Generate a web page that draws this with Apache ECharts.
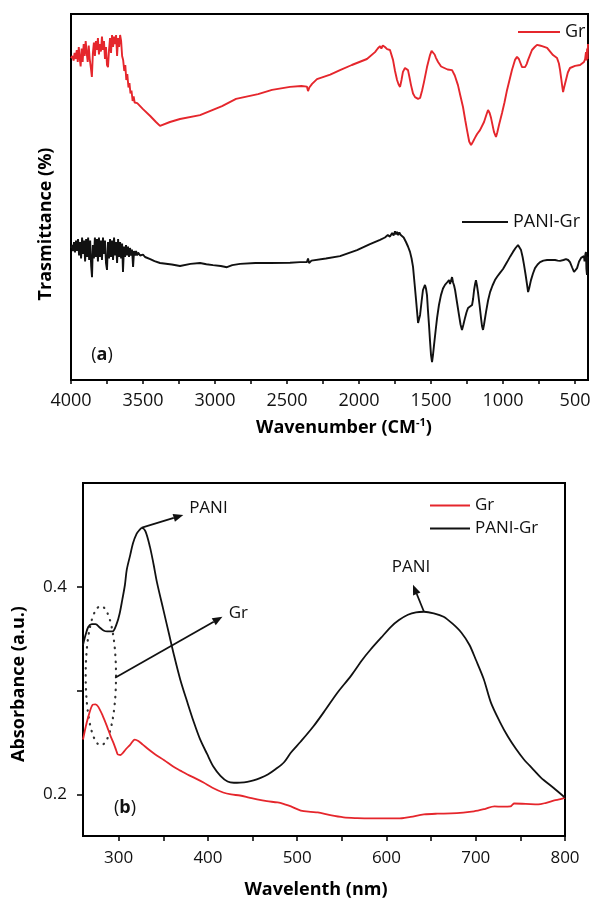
<!DOCTYPE html>
<html>
<head>
<meta charset="utf-8">
<title>FTIR and UV-vis of Gr / PANI-Gr</title>
<script src="https://cdn.jsdelivr.net/npm/echarts@6/dist/echarts.min.js"></script>
<style>
  html, body { margin: 0; padding: 0; background: #fff; }
  #chart { width: 591px; height: 902px; }
</style>
</head>
<body>
<div id="chart"></div>
<script>
// (a) FTIR, [wavenumber cm-1, transmittance (arbitrary offset units)]
const ftirGr = [
  [4000,107.3],[3990,108],[3982,106.5],[3975,109],[3968,107],[3960,110],[3953,106],[3946,111],[3940,107.5],[3933,104.5],
  [3926,110.5],[3919,106],[3912,112],[3905,108],[3898,113],[3891,109],[3884,106],[3877,111.5],[3870,107],[3862,104],
  [3855,101],[3848,109],[3841,112.5],[3834,108],[3827,113],[3820,110],[3813,114],[3806,108.5],[3799,112],[3792,109.5],
  [3785,114.5],[3778,110],[3771,113],[3764,107],[3757,111],[3750,105],[3743,104.3],[3736,110],[3729,114],[3722,109],
  [3715,115],[3708,111],[3701,114.5],[3694,112],[3687,115],[3680,108],[3673,114],[3666,111],[3659,115],[3652,113],
  [3645,108],[3638,106.7],[3630,103],[3623,105],[3616,100],[3609,102],[3601,97.5],[3594,99],[3587,95.5],[3580,96.5],
  [3572,93],[3565,94.5],[3558,92.5],[3550,93],[3540,92.3],[3500,90.3],[3450,88],[3410,86],[3382,84.7],[3313,86],
  [3243,87],[3104,88.3],[2951,91.3],[2854,93.7],[2701,95.3],[2604,96.7],[2479,97.7],[2400,98],[2362,97.8],[2354,96.3],
  [2345,97.5],[2326,98.7],[2292,100.3],[2200,101.8],[2132,103.3],[2050,105],[1945,107],[1889,109.3],[1870,110.5],[1854,111.3],
  [1845,110.5],[1835,111.5],[1820,111],[1805,110.3],[1785,110],[1764,106.7],[1750,103],[1736,100],[1725,98.5],[1715,97.7],
  [1705,100],[1695,102.7],[1681,104],[1670,103.8],[1660,103.3],[1650,101],[1639,98.3],[1625,95.5],[1611,94.3],[1590,93.7],
  [1576,94],[1562,96.5],[1549,99.3],[1528,104.3],[1507,108.3],[1496,109.7],[1486,109.3],[1475,108.5],[1465,107.3],[1451,106],
  [1430,104.5],[1417,104],[1385,103.5],[1354,103.3],[1335,101.5],[1313,98.3],[1295,94.5],[1278,91],[1262,86.5],[1250,83.3],
  [1235,79.5],[1222,78.3],[1208,79.5],[1195,80.7],[1180,82],[1160,83.3],[1132,86],[1115,88.5],[1104,90],[1093,89],
  [1083,87.3],[1063,82.7],[1049,81],[1040,82.5],[1028,85],[1007,89],[990,92.5],[972,96.7],[955,100],[938,103.3],
  [917,106.7],[903,107.7],[890,107],[882,106],[868,104.3],[847,104.3],[836,105.3],[826,106.7],[799,110],[780,111],
  [764,111.7],[745,111.5],[729,111.3],[694,110.7],[653,108.3],[625,107.3],[612,105.5],[604,103.3],[596,100.5],[590,98.3],
  [583,96],[576,97.5],[563,100],[550,102.5],[535,104],[500,104.7],[465,105],[438,106],[430,107],[424,109.3],
  [420,106.5],[416,110.5],[413,107],[410,112]
];
const ftirPaniGr = [
  [4000,44],[3993,45],[3986,43],[3979,46],[3972,42.5],[3965,46.5],[3958,43],[3951,47],[3944,41.5],[3937,46],
  [3930,40.5],[3923,47.5],[3916,42],[3909,46.5],[3902,39.5],[3895,47],[3888,41],[3881,47.5],[3874,40],[3867,46.5],
  [3860,38],[3854,34.3],[3848,45],[3841,40.5],[3834,47.5],[3827,41],[3820,47],[3813,39.5],[3806,47.5],[3799,41],
  [3792,46.5],[3785,40],[3778,47.5],[3771,42],[3764,46.5],[3757,39],[3750,36.7],[3743,46],[3736,40.5],[3729,47],
  [3722,41],[3715,46.5],[3708,40],[3701,47.5],[3694,41.5],[3687,46],[3680,39],[3673,47],[3666,41],[3659,46],
  [3652,40.5],[3645,45.5],[3639,36],[3632,44.5],[3625,41],[3618,45],[3611,41.5],[3604,44.5],[3597,41],[3590,44],
  [3583,41.5],[3576,43.5],[3569,37.7],[3562,43],[3555,41.5],[3548,43],[3541,41.5],[3534,42.5],[3520,41.5],[3500,41.8],
  [3486,41],[3450,40.3],[3420,39.6],[3382,39],[3300,38.5],[3243,38],[3170,38.7],[3104,39],[3060,38.6],[3014,38.3],
  [2960,38],[2917,37.6],[2880,38.3],[2826,38.7],[2720,39],[2618,39],[2479,39.1],[2410,39.3],[2362,39.3],[2354,40.5],
  [2347,39],[2330,39.8],[2230,40.5],[2132,41.3],[2014,43.3],[1924,45.3],[1854,46.7],[1820,47.5],[1800,48.3],[1785,47.8],
  [1770,49],[1760,48.2],[1750,49.6],[1743,48.5],[1736,49.4],[1728,48.3],[1720,49.2],[1710,48.3],[1701,48.7],[1690,47.5],
  [1674,46],[1660,44.5],[1646,42.7],[1635,40.5],[1625,37.7],[1614,32],[1604,26.7],[1590,19],[1583,19.5],[1576,21.7],
  [1566,26],[1556,30],[1542,31.7],[1535,30.5],[1528,28.3],[1521,23],[1514,18.3],[1507,13],[1500,8.3],[1493,6],
  [1486,8.5],[1479,11.7],[1468,16.5],[1458,20.7],[1445,25],[1431,28.3],[1417,30.5],[1403,31.7],[1389,32.5],[1375,33.3],
  [1368,32],[1361,31.7],[1354,34.3],[1347,32.5],[1340,31.5],[1333,30],[1320,26],[1306,21.7],[1295,18.5],[1285,16.7],
  [1275,18.5],[1264,20.7],[1254,22.5],[1243,24],[1230,24.5],[1215,25],[1208,27],[1201,30],[1194,32],[1188,33.3],
  [1181,31.5],[1174,29.3],[1163,25],[1153,20.7],[1146,18],[1139,16.7],[1132,18.5],[1118,22.7],[1104,26.5],[1090,29.3],
  [1073,31.5],[1056,33.3],[1040,34.5],[1021,35.7],[1000,37],[972,39.3],[950,41.2],[931,42.7],[913,44],[896,45],
  [885,44.5],[875,43.3],[864,41],[854,38.3],[843,35],[833,31.7],[826,29.3],[819,30.5],[806,33.3],[792,35.5],
  [778,37.3],[760,38.5],[743,39.3],[720,39.8],[694,40],[660,40],[639,40],[620,39.8],[604,39.7],[580,40],
  [563,40.3],[548,40],[535,39.3],[520,37.5],[507,36],[497,36.5],[486,37.3],[472,39.5],[458,40.7],[445,41],
  [438,41.3],[434,39.5],[431,39.3],[428,42],[424,42.7],[421,37],[417,35],[414,41],[410,40.7]
];
const ftirLabels = [500, 1000, 1500, 2000, 2500, 3000, 3500, 4000];
const ftirTicks = [500, 750, 1000, 1250, 1500, 1750, 2000, 2250, 2500, 2750, 3000, 3250, 3500, 3750, 4000];

// (b) UV-vis, [wavelength nm, absorbance]
const uvGr = [
  [260,0.2529],[263,0.265],[266,0.275],[271,0.2865],[274,0.2868],[277,0.2846],[282,0.276],[287,0.2654],[291,0.256],[294,0.25],
  [297,0.243],[299,0.2385],[302,0.238],[305,0.2404],[309,0.2445],[313,0.248],[318,0.2529],[322,0.2515],[327,0.248],[334,0.243],
  [341,0.2385],[351,0.233],[361,0.2269],[369,0.223],[377,0.2192],[386,0.2155],[395,0.2115],[405,0.2065],[417,0.2019],[426,0.2],
  [436,0.199],[446,0.197],[455,0.1952],[466,0.1935],[478,0.1923],[486,0.1905],[493,0.1885],[504,0.1845],[515,0.1832],[523,0.1827],
  [537,0.18],[552,0.1779],[567,0.1772],[582,0.1769],[597,0.177],[613,0.1769],[627,0.1785],[642,0.1808],[657,0.1815],[672,0.1817],
  [686,0.1825],[698,0.1837],[710,0.186],[721,0.1885],[730,0.1882],[739,0.1885],[741,0.19],[743,0.1913],[756,0.191],[770,0.1904],
  [779,0.192],[788,0.1942],[795,0.1955],[800,0.197]
];
const uvPaniGr = [
  [260,0.344],[263,0.354],[266,0.3615],[270,0.364],[274,0.364],[279,0.3606],[283,0.358],[287,0.357],[293,0.357],[298,0.365],
  [301,0.374],[304,0.3875],[307,0.402],[309,0.4163],[313,0.431],[316,0.442],[320,0.451],[323,0.4545],[326,0.4567],[330,0.4535],
  [335,0.4385],[339,0.422],[343,0.4038],[350,0.378],[356,0.356],[362,0.334],[369,0.3106],[377,0.2885],[384,0.27],[391,0.2535],
  [399,0.239],[406,0.2269],[414,0.218],[422,0.2125],[429,0.2113],[436,0.2115],[444,0.2122],[451,0.2135],[459,0.216],[467,0.2192],
  [476,0.2245],[485,0.2308],[493,0.2404],[504,0.251],[518,0.2654],[532,0.282],[545,0.298],[560,0.314],[573,0.3298],[582,0.3394],
  [594,0.351],[605,0.3615],[614,0.368],[624,0.3731],[633,0.3755],[642,0.376],[653,0.3745],[664,0.3712],[674,0.3645],[684,0.3558],
  [693,0.344],[700,0.33],[709,0.311],[717,0.2885],[727,0.27],[736,0.2558],[745,0.244],[754,0.2337],[764,0.2245],[773,0.2163],
  [787,0.2065],[800,0.197]
];
const uvLabels = [300, 400, 500, 600, 700, 800];
const uvTicks = [300, 350, 400, 450, 500, 550, 600, 650, 700, 750, 800];
const absLabels = [0.2, 0.4];
const absTicks = [0.2, 0.3, 0.4];

const RED = '#e5262c';
const BLACK = '#111';
const FONT = 'Open Sans';

const chart = echarts.init(document.getElementById('chart'));

const axisLine = { show: true, lineStyle: { color: '#000', width: 2 } };
const legendText = size => ({ fontFamily: FONT, fontSize: size, color: BLACK });

chart.setOption({
  animation: false,
  textStyle: { fontFamily: FONT, color: BLACK },
  grid: [
    { left: 71, top: 14, width: 517, height: 366, show: true, borderColor: '#000', borderWidth: 2, outerBoundsMode: 'none' },
    { left: 83, top: 483, width: 482, height: 353, show: true, borderColor: '#000', borderWidth: 2, outerBoundsMode: 'none' }
  ],
  legend: [
    {
      data: ['Gr'], left: 513, top: 18, icon: 'rect', itemWidth: 42, itemHeight: 2,
      textStyle: legendText(18)
    },
    {
      data: ['PANI-Gr'], left: 457, top: 208, icon: 'rect', itemWidth: 46, itemHeight: 2,
      textStyle: legendText(18)
    },
    {
      data: ['Gr', 'PANI-Gr'], left: 425, top: 492, orient: 'vertical', icon: 'rect',
      itemWidth: 40, itemHeight: 2, itemGap: 6,
      textStyle: legendText(17)
    }
  ],
  xAxis: [
    {
      type: 'value', gridIndex: 0, min: 410, max: 4000, inverse: true,
      axisLine,
      axisTick: { customValues: ftirTicks, length: 4, lineStyle: { color: '#000', width: 1.5 } },
      axisLabel: {
        customValues: ftirLabels, fontSize: 18, color: BLACK, margin: 12, fontFamily: FONT,
        formatter: v => String(v)
      },
      splitLine: { show: false }
    },
    {
      type: 'value', gridIndex: 1, min: 260, max: 800,
      axisLine,
      axisTick: { customValues: uvTicks, length: 5, lineStyle: { color: '#000', width: 1.5 } },
      axisLabel: {
        customValues: uvLabels, fontSize: 17, color: BLACK, margin: 14, fontFamily: FONT,
        formatter: v => String(v)
      },
      splitLine: { show: false }
    }
  ],
  yAxis: [
    {
      type: 'value', gridIndex: 0, min: 0, max: 122,
      axisLine, axisTick: { show: false }, axisLabel: { show: false }, splitLine: { show: false }
    },
    {
      type: 'value', gridIndex: 1, min: 0.16, max: 0.5,
      axisLine,
      axisTick: { customValues: absTicks, length: 6, lineStyle: { color: '#000', width: 1.5 } },
      axisLabel: {
        customValues: absLabels, fontSize: 17, color: BLACK, margin: 16, fontFamily: FONT,
        formatter: v => v.toFixed(1)
      },
      splitLine: { show: false }
    }
  ],
  series: [
    {
      name: 'Gr', type: 'line', xAxisIndex: 0, yAxisIndex: 0, data: ftirGr,
      symbol: 'none', lineStyle: { color: RED, width: 1.9 }, itemStyle: { color: RED }
    },
    {
      name: 'PANI-Gr', type: 'line', xAxisIndex: 0, yAxisIndex: 0, data: ftirPaniGr,
      symbol: 'none', lineStyle: { color: BLACK, width: 1.9 }, itemStyle: { color: BLACK }
    },
    {
      name: 'Gr', type: 'line', xAxisIndex: 1, yAxisIndex: 1, data: uvGr, smooth: 0.3,
      symbol: 'none', lineStyle: { color: RED, width: 1.8 }, itemStyle: { color: RED }
    },
    {
      name: 'PANI-Gr', type: 'line', xAxisIndex: 1, yAxisIndex: 1, data: uvPaniGr, smooth: 0.3,
      symbol: 'none', lineStyle: { color: BLACK, width: 1.8 }, itemStyle: { color: BLACK }
    }
  ]
});

// annotations for panel (b), placed in data coordinates
function px(p) {
  return chart.convertToPixel({ gridIndex: 1 }, p);
}

function arrow(from, to) {
  const p0 = px(from);
  const p1 = px(to);
  const dx = p1[0] - p0[0];
  const dy = p1[1] - p0[1];
  const len = Math.hypot(dx, dy);
  const ux = dx / len;
  const uy = dy / len;
  const hl = 10, hw = 4;
  const bx = p1[0] - ux * hl;
  const by = p1[1] - uy * hl;
  return [
    { type: 'line', shape: { x1: p0[0], y1: p0[1], x2: bx, y2: by }, style: { stroke: BLACK, lineWidth: 1.8 } },
    {
      type: 'polygon',
      shape: { points: [[p1[0], p1[1]], [bx - uy * hw, by + ux * hw], [bx + uy * hw, by - ux * hw]] },
      style: { fill: BLACK }
    }
  ];
}

function label(text, at, size) {
  const p = px(at);
  return {
    type: 'text', x: p[0], y: p[1],
    style: { text, fontFamily: FONT, fontSize: size || 17, fill: BLACK, align: 'center', verticalAlign: 'middle' }
  };
}

const nameRich = {
  a: { fontFamily: FONT, fontSize: 18, fontWeight: 'bold', fill: '#000', lineHeight: 22 },
  s: { fontFamily: FONT, fontSize: 11, fontWeight: 'bold', fill: '#000', lineHeight: 12, verticalAlign: 'top' }
};

function axisName(text, x, y, rotate) {
  return {
    type: 'text', x, y, rotation: rotate ? Math.PI / 2 : 0,
    style: { text: '{a|' + text + '}', rich: nameRich, align: 'center', verticalAlign: 'middle' }
  };
}

function panelTag(letter, x, y) {
  return {
    type: 'text', x, y,
    style: {
      text: '{n|(}{b|' + letter + '}{n|)}',
      align: 'center', verticalAlign: 'middle',
      rich: {
        n: { fontFamily: FONT, fontSize: 18, fill: BLACK },
        b: { fontFamily: FONT, fontSize: 18, fontWeight: 'bold', fill: BLACK }
      }
    }
  };
}

const ellC = px([280, 0.3144]);
const ellE = px([297, 0.3144 - 0.067]);

chart.setOption({
  graphic: {
    elements: [
      axisName('Trasmittance (%)', 46, 224, true),
      {
        type: 'text', x: 344, y: 428,
        style: { text: '{a|Wavenumber (CM}{s|-1}{a|)}', rich: nameRich, align: 'center', verticalAlign: 'middle' }
      },
      axisName('Absorbance (a.u.)', 19, 684, true),
      axisName('Wavelenth (nm)', 316, 890, false),
      panelTag('a', 102, 355),
      panelTag('b', 125, 808),
      {
        type: 'ellipse',
        shape: { cx: ellC[0], cy: ellC[1], rx: ellE[0] - ellC[0], ry: ellE[1] - ellC[1] },
        style: { fill: 'none', stroke: '#333', lineWidth: 2.2, lineDash: [0.5, 6.5], lineCap: 'round' }
      },
      ...arrow([326, 0.457], [372.4, 0.4692]),
      label('PANI', [400.5, 0.476]),
      ...arrow([296, 0.3125], [416.2, 0.3712]),
      label('Gr', [434, 0.375]),
      ...arrow([642, 0.376], [629.7, 0.402]),
      label('PANI', [627.4, 0.419])
    ]
  }
});
</script>
</body>
</html>
